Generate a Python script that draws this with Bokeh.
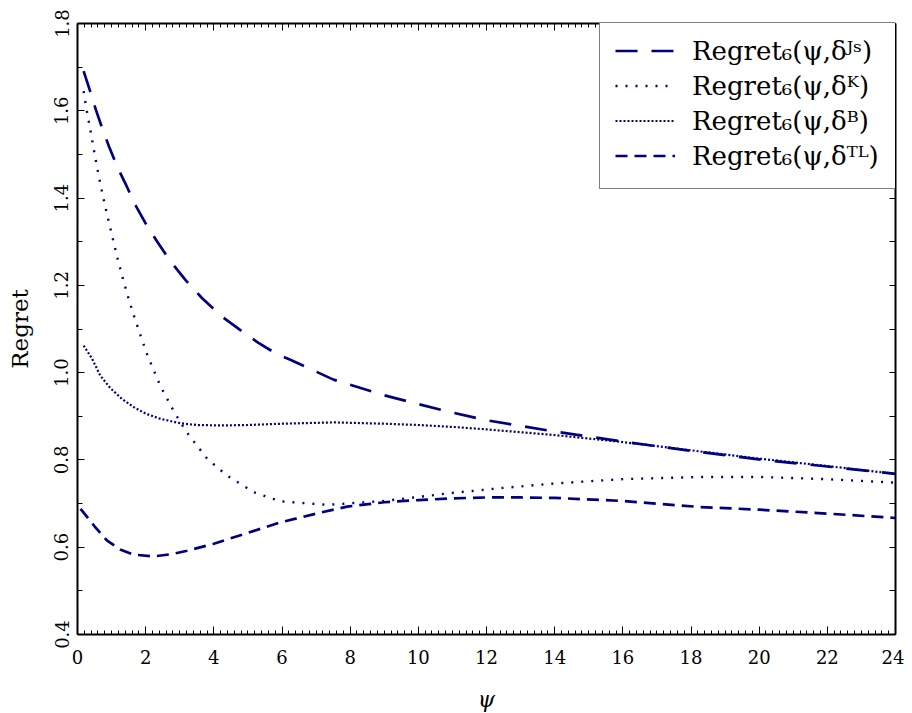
from bokeh.plotting import figure
from bokeh.models import (Range1d, LinearAxis, SingleIntervalTicker, FixedTicker,
                          Legend, LegendItem, NumeralTickFormatter)
from bokeh.embed import file_html
from bokeh.resources import INLINE

# ---------------- data ----------------
psi_js = [0.18, 0.37, 0.54, 0.73, 0.93, 1.17, 1.42, 1.69, 1.99, 2.35, 2.71, 3.16,
          3.65, 4.23, 4.75, 5.31, 5.84, 6.26, 7.51, 9.0, 10.75, 12.0, 14.0, 16.0,
          18.28, 20.24, 22.0, 24.0]
regret_js = [1.691, 1.645, 1.602, 1.559, 1.517, 1.471, 1.431, 1.385, 1.343, 1.299,
             1.257, 1.213, 1.171, 1.129, 1.099, 1.068, 1.043, 1.029, 0.984, 0.948,
             0.913, 0.891, 0.865, 0.842, 0.818, 0.799, 0.785, 0.768]

psi_k = [0.18, 0.27, 0.37, 0.47, 0.57, 0.68, 0.80, 0.93, 1.06, 1.19, 1.34, 1.50,
         1.67, 1.86, 2.05, 2.44, 2.83, 3.17, 3.8, 4.39, 5.17, 5.96, 7.33, 9.0,
         10.95, 12.5, 14.0, 16.0, 18.28, 20.0, 22.0, 24.0]
regret_k = [1.645, 1.601, 1.559, 1.515, 1.472, 1.429, 1.385, 1.342, 1.299, 1.257,
            1.213, 1.169, 1.127, 1.083, 1.040, 0.968, 0.911, 0.867, 0.803, 0.764,
            0.726, 0.705, 0.697, 0.706, 0.724, 0.736, 0.746, 0.756, 0.761, 0.761,
            0.756, 0.748]

psi_b = [0.18, 0.42, 0.67, 0.97, 1.3, 1.65, 2.0, 2.44, 3.02, 3.5, 4.2, 5.0, 6.0,
         7.51, 9.0, 10.0, 11.14, 12.0, 14.0, 16.0, 18.0, 20.0, 22.0, 24.0]
regret_b = [1.062, 1.033, 0.993, 0.964, 0.940, 0.921, 0.906, 0.894, 0.884, 0.880,
            0.879, 0.880, 0.883, 0.886, 0.883, 0.880, 0.875, 0.870, 0.857, 0.841,
            0.822, 0.803, 0.786, 0.768]

psi_tl = [0.09, 0.5, 0.87, 1.25, 1.65, 2.24, 2.75, 3.22, 4.0, 5.0, 5.96, 7.0, 7.91,
          9.0, 10.0, 11.0, 12.0, 13.0, 14.0, 16.0, 18.28, 20.0, 22.0, 24.0]
regret_tl = [0.688, 0.648, 0.615, 0.595, 0.583, 0.579, 0.584, 0.592, 0.608, 0.633,
             0.657, 0.677, 0.693, 0.703, 0.708, 0.712, 0.714, 0.714, 0.713, 0.706,
             0.692, 0.686, 0.677, 0.667]

series_labels = ["Regret₆(ψ,δᴶˢ)", "Regret₆(ψ,δᴷ)", "Regret₆(ψ,δᴮ)", "Regret₆(ψ,δᵀᴸ)"]
x_label = "ψ"
y_label = "Regret"

# ---------------- styling ----------------
NAVY = "#000080"
FONT = "DejaVu Serif"

p = figure(width=904, height=705, output_backend="svg", toolbar_location=None,
           x_range=Range1d(0, 24), y_range=Range1d(0.4, 1.8),
           min_border_left=77, min_border_top=23, min_border_right=9,
           min_border_bottom=71, x_axis_location=None, y_axis_location=None)
p.frame_width = 818
p.frame_height = 611
p.grid.visible = False
p.outline_line_color = None
p.background_fill_color = "white"
p.border_fill_color = "white"

def style_axis(ax, major_in, minor_in):
    ax.axis_line_color = "black"
    ax.axis_line_width = 2
    ax.major_tick_in = major_in
    ax.major_tick_out = 0
    ax.minor_tick_in = minor_in
    ax.minor_tick_out = 0
    ax.major_tick_line_color = "black"
    ax.minor_tick_line_color = "black"
    ax.major_tick_line_width = 1
    ax.minor_tick_line_width = 1

xb = LinearAxis(ticker=SingleIntervalTicker(interval=2, num_minor_ticks=10))
style_axis(xb, 8, 4)
xb.major_label_text_font = FONT
xb.major_label_text_font_size = "18px"
xb.major_label_text_color = "black"
xb.major_label_standoff = 15
xb.axis_label = x_label
xb.axis_label_text_font = FONT
xb.axis_label_text_font_style = "italic"
xb.axis_label_text_font_size = "22px"
xb.axis_label_text_color = "black"
xb.axis_label_standoff = 20
p.add_layout(xb, "below")

yl = LinearAxis(ticker=SingleIntervalTicker(interval=0.2, num_minor_ticks=2),
                formatter=NumeralTickFormatter(format="0.0"))
style_axis(yl, 7, 5)
yl.major_label_orientation = "vertical"
yl.major_label_text_font = FONT
yl.major_label_text_font_size = "18px"
yl.major_label_text_color = "black"
yl.major_label_standoff = 9
yl.axis_label = y_label
yl.axis_label_text_font = FONT
yl.axis_label_text_font_style = "normal"
yl.axis_label_text_font_size = "23px"
yl.axis_label_text_color = "black"
yl.axis_label_standoff = 19
p.add_layout(yl, "left")

xt = LinearAxis(ticker=SingleIntervalTicker(interval=2, num_minor_ticks=10))
style_axis(xt, 7, 4)
xt.major_label_text_font_size = "1px"
xt.major_label_text_color = None
xt.major_label_standoff = 0
p.add_layout(xt, "above")

right_ticks = [round(0.4 + 0.1 * i, 1) for i in range(15)]
yr = LinearAxis(ticker=FixedTicker(ticks=right_ticks, minor_ticks=[]))
style_axis(yr, 6, 0)
yr.major_label_text_font_size = "1px"
yr.major_label_text_color = None
yr.major_label_standoff = 0
p.add_layout(yr, "right")

r_js = p.line(psi_js, regret_js, line_color=NAVY, line_width=2.7, line_dash="22 14")
r_k = p.line(psi_k, regret_k, line_color=NAVY, line_width=2.4, line_dash="2 8")
r_b = p.line(psi_b, regret_b, line_color=NAVY, line_width=2.2, line_dash="2 2")
r_tl = p.line(psi_tl, regret_tl, line_color=NAVY, line_width=2.7, line_dash="12 7")

legend = Legend(items=[LegendItem(label=series_labels[0], renderers=[r_js]),
                       LegendItem(label=series_labels[1], renderers=[r_k]),
                       LegendItem(label=series_labels[2], renderers=[r_b]),
                       LegendItem(label=series_labels[3], renderers=[r_tl])],
                location=(522, 445), orientation="vertical",
                padding=15, spacing=0, margin=0,
                glyph_width=60, glyph_height=35, label_height=35,
                label_width=188, label_standoff=17,
                label_text_font=FONT, label_text_font_size="26px",
                label_text_color="black",
                border_line_color="black", border_line_width=1.2,
                background_fill_color="white", background_fill_alpha=1.0)
p.add_layout(legend, "center")

open("out.html", "w").write(file_html(p, INLINE))
